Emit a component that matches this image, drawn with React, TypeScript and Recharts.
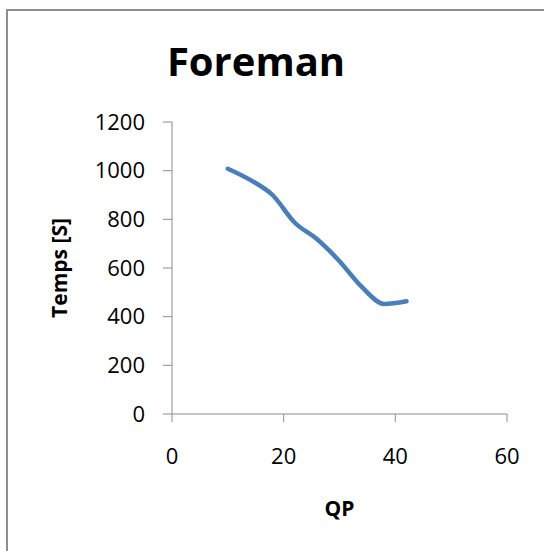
import { LineChart, Line, XAxis, YAxis, Label } from "recharts";

const qpValues = [10, 14, 18, 22, 26, 30, 34, 38, 42];
const tempsValues = [1008, 962, 900, 786, 718, 628, 522, 452, 463];
const xTicks = [0, 20, 40, 60];
const yTicks = [0, 200, 400, 600, 800, 1000, 1200];

const data = qpValues.map((qp, i) => ({ qp, temps: tempsValues[i] }));

const FONT = "'Open Sans', 'Liberation Sans', sans-serif";
const AXIS_GRAY = "#8c8c8c";

export default function App() {
  return (
    <div
      style={{
        position: "absolute",
        left: 0,
        top: 0,
        width: 544,
        height: 551,
        overflow: "hidden",
        background: "#fff",
        fontFamily: FONT,
      }}
    >
      {/* chart frame, runs off the right and bottom edge */}
      <div
        style={{
          position: "absolute",
          left: 6,
          top: 9,
          width: 700,
          height: 700,
          border: "2px solid #8e8e8e",
        }}
      />
      <div
        style={{
          position: "absolute",
          left: 136,
          top: 41,
          width: 240,
          textAlign: "center",
          fontSize: 40,
          lineHeight: "40px",
          fontWeight: 700,
          color: "#000",
        }}
      >
        Foreman
      </div>
      <div style={{ position: "absolute", left: 0, top: 0 }}>
        <LineChart
          width={544}
          height={551}
          data={data}
          margin={{ top: 122, right: 37, bottom: 33, left: 40 }}
        >
          <XAxis
            dataKey="qp"
            type="number"
            domain={[0, 60]}
            ticks={xTicks}
            height={104}
            tickSize={8}
            tickMargin={26}
            stroke={AXIS_GRAY}
            tick={{ fill: "#000", fontSize: 22, fontFamily: FONT }}
          >
            <Label
              value="QP"
              position="insideBottom"
              offset={2}
              style={{ fontSize: 21, fontWeight: 700, fill: "#000", fontFamily: FONT }}
            />
          </XAxis>
          <YAxis
            type="number"
            domain={[0, 1200]}
            ticks={yTicks}
            width={132}
            tickSize={9}
            tickMargin={18}
            stroke={AXIS_GRAY}
            tick={{ fill: "#000", fontSize: 22, fontFamily: FONT }}
          >
            <Label
              value="Temps [S]"
              angle={-90}
              position="insideLeft"
              offset={20}
              style={{
                fontSize: 21,
                fontWeight: 700,
                fill: "#000",
                fontFamily: FONT,
                textAnchor: "middle",
              }}
            />
          </YAxis>
          <Line
            type="monotone"
            dataKey="temps"
            stroke="#4a7ebb"
            strokeWidth={4.5}
            strokeLinecap="round"
            dot={false}
            isAnimationActive={false}
          />
        </LineChart>
      </div>
    </div>
  );
}
